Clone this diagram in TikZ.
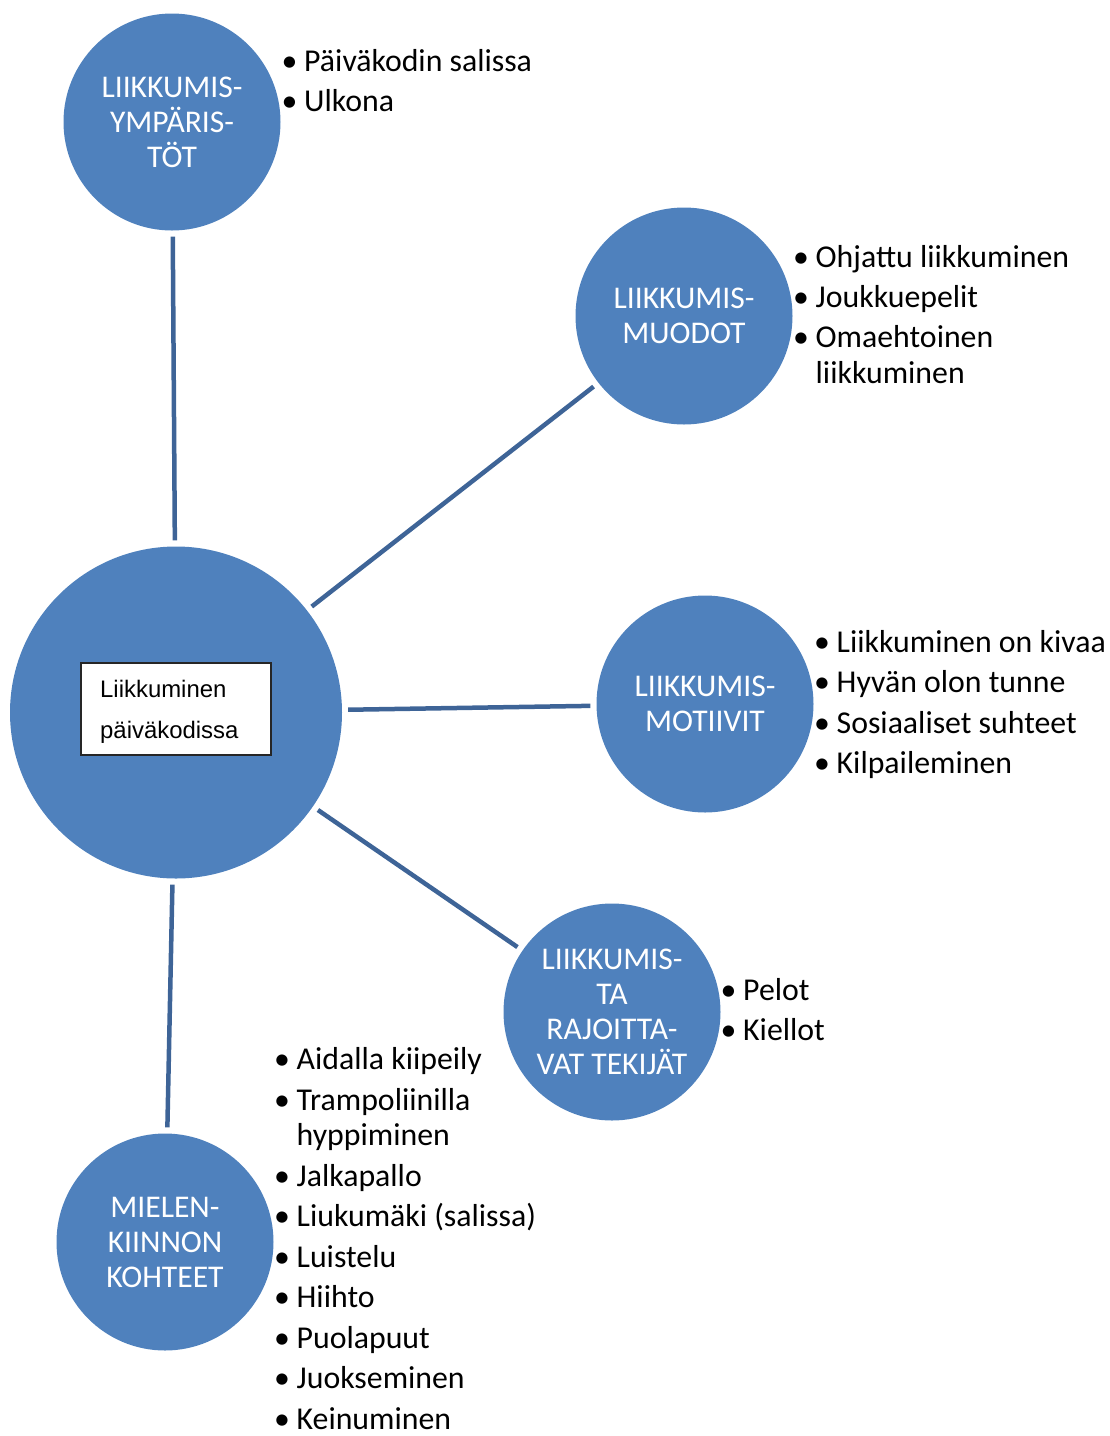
\documentclass[tikz,border=0pt]{standalone}
\usepackage{fontspec}
\setmainfont{Carlito}
\newfontfamily\boxfont{Liberation Sans}
\definecolor{circfill}{HTML}{4F81BD}
\definecolor{linkcol}{HTML}{3E6497}
% bullet hanging to the left of an item's text
\newcommand\bul{\llap{\makebox[22.5pt][l]{\textbullet}}}
\begin{document}
\begin{tikzpicture}[x=1pt,y=-1pt,
  topic/.style={circle, fill=circfill, inner sep=0pt, minimum size=217pt,
    text=white, align=center, font=\fontsize{31.6}{35}\selectfont},
  hub/.style={circle, fill=circfill, inner sep=0pt, minimum size=332pt},
  link/.style={draw=linkcol, line width=4.5pt, shorten <=6pt, shorten >=6pt},
  item/.style={anchor=base west, inner sep=0pt, font=\fontsize{31.8}{35}\selectfont},
  boxtext/.style={anchor=base west, inner sep=0pt, font=\boxfont\fontsize{23.9}{28}\selectfont},
  ]
\useasboundingbox (0,0) rectangle (1110,1436);

% circles
\node[hub] (hub) at (176,712.5) {};
\node[topic] (env) at (172,122) {LIIKKUMIS-\\YMPÄRIS-\\TÖT};
\node[topic] (form) at (684,316) {LIIKKUMIS-\\MUODOT};
\node[topic] (mot) at (705,704) {LIIKKUMIS-\\MOTIIVIT};
\node[topic] (lim) at (612,1012) {LIIKKUMIS-\\TA\\RAJOITTA-\\VAT TEKIJÄT};
\node[topic] (int) at (165,1242) {MIELEN-\\KIINNON\\KOHTEET};

% connectors
\draw[link] (hub) -- (env);
\draw[link] (hub) -- (form);
\draw[link] (hub) -- (mot);
\draw[link] (hub) -- (lim);
\draw[link] (hub) -- (int);

% title box in the hub
\node[draw=black!85, line width=1.3pt, fill=white, minimum width=190pt,
  minimum height=92pt, inner sep=0pt] (box) at (176,709) {};
\node[boxtext] (box1) at (100,697) {Liikkuminen};
\node[boxtext] (box2) at (100,738) {päiväkodissa};

% environments
\node[item] (e1) at (304,71) {\bul Päiväkodin salissa};
\node[item] (e2) at (304,111.5) {\bul Ulkona};

% forms
\node[item] (f1) at (815.5,267) {\bul Ohjattu liikkuminen};
\node[item] (f2) at (815.5,307) {\bul Joukkuepelit};
\node[item] (f3) at (815.5,347) {\bul Omaehtoinen};
\node[item] (f3b) at (815.5,383) {liikkuminen};

% motives
\node[item] (m1) at (836.5,652) {\bul Liikkuminen on kivaa};
\node[item] (m2) at (836.5,692.5) {\bul Hyvän olon tunne};
\node[item] (m3) at (836.5,733) {\bul Sosiaaliset suhteet};
\node[item] (m4) at (836.5,773.5) {\bul Kilpaileminen};

% limiting factors
\node[item] (l1) at (743,1000) {\bul Pelot};
\node[item] (l2) at (743,1040.5) {\bul Kiellot};

% interests
\node[item] (i1) at (296.5,1069.5) {\bul Aidalla kiipeily};
\node[item] (i2) at (296.5,1110) {\bul Trampoliinilla};
\node[item] (i2b) at (296.5,1145.5) {hyppiminen};
\node[item] (i3) at (296.5,1186) {\bul Jalkapallo};
\node[item] (i4) at (296.5,1226.5) {\bul Liukumäki (salissa)};
\node[item] (i5) at (296.5,1267) {\bul Luistelu};
\node[item] (i6) at (296.5,1307.5) {\bul Hiihto};
\node[item] (i7) at (296.5,1348) {\bul Puolapuut};
\node[item] (i8) at (296.5,1388.5) {\bul Juokseminen};
\node[item] (i9) at (296.5,1429) {\bul Keinuminen};
\end{tikzpicture}
\end{document}
